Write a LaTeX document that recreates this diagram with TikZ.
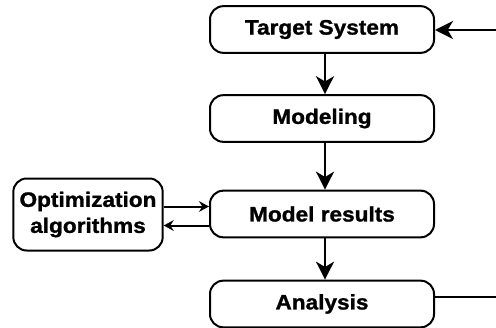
\documentclass[tikz,border=0pt]{standalone}
\usepackage{fontspec}
\setmainfont{Liberation Sans}[FakeStretch=1.08, BoldFeatures={FakeBold=1.2}]
\usetikzlibrary{arrows.meta}
\tikzset{
  box/.style={draw, line width=1.5pt, rounded corners=10pt, minimum width=168pt,
    minimum height=35pt, inner sep=0pt, font=\fontsize{15.7}{19.5}\selectfont\bfseries},
  bigarr/.style={line width=1.5pt, -{Stealth[length=13.5pt,width=13.5pt,inset=4pt]}},
  smallarr/.style={line width=1.5pt, -{Stealth[length=7.5pt,width=8pt,inset=2.5pt]}},
}
\begin{document}
\begin{tikzpicture}[x=0.75pt,y=-0.75pt]
\useasboundingbox (0,0) rectangle (496,328);
\node[box] (ts) at (322,29.5) {Target System};
\node[box] (mo) at (322,118.5) {Modeling};
\node[box] (mr) at (322,214) {Model results};
\node[box] (an) at (322,304) {Analysis};
\node[box, minimum width=112pt, minimum height=54pt, align=center] (oa) at (88,214.5) {Optimization\\algorithms};
\coordinate (fin) at (497,30);
\coordinate (fout) at (497,297);
\draw[bigarr] (ts.south -| 325,0) -- (mo.north -| 325,0);
\draw[bigarr] (mo.south -| 325,0) -- (mr.north -| 325,0);
\draw[bigarr] (mr.south -| 325,0) -- (an.north -| 325,0);
\draw[smallarr] (oa.east |- 0,206.5) -- (mr.west |- 0,206.5);
\draw[smallarr] (mr.west |- 0,225.5) -- (oa.east |- 0,225.5);
\draw[bigarr] (fin) -- (ts.east |- fin);
\draw[line width=1.5pt] (an.east |- fout) -- (fout);
\end{tikzpicture}
\end{document}
